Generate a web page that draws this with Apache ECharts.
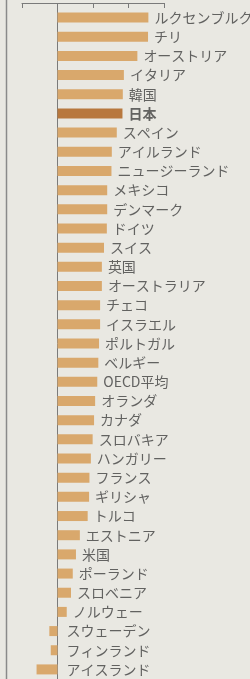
<!DOCTYPE html>
<html><head><meta charset="utf-8">
<script src="https://cdn.jsdelivr.net/npm/echarts@6/dist/echarts.min.js"></script>
<style>html,body{margin:0;padding:0;background:#e9e8e2;}#c{width:250px;height:679px;}</style>
</head><body><div id="c"></div>
<script>
var categories = ['ルクセンブルク','チリ','オーストリア','イタリア','韓国','日本','スペイン','アイルランド','ニュージーランド','メキシコ','デンマーク','ドイツ','スイス','英国','オーストラリア','チェコ','イスラエル','ポルトガル','ベルギー','OECD平均','オランダ','カナダ','スロバキア','ハンガリー','フランス','ギリシャ','トルコ','エストニア','米国','ポーランド','スロベニア','ノルウェー','スウェーデン','フィンランド','アイスランド'];
var values = [2.56,2.55,2.25,1.87,1.84,1.83,1.67,1.53,1.52,1.40,1.40,1.39,1.31,1.25,1.25,1.20,1.20,1.17,1.15,1.12,1.06,1.03,0.99,0.94,0.90,0.89,0.85,0.63,0.52,0.43,0.38,0.26,-0.23,-0.19,-0.59];
var highlight = '日本';
var axisTicks = [-1, 0, 1, 2, 3];

var barColor = '#d9a86c', hiColor = '#b8783e', textColor = '#404040';
var chart = echarts.init(document.getElementById('c'));
chart.setOption({
  backgroundColor: '#e9e8e2',
  animation: false,
  grid: {left: 22, right: 86, top: 8, bottom: 0},
  xAxis: {
    type: 'value', position: 'top', offset: 5,
    min: axisTicks[0], max: axisTicks[axisTicks.length-1], interval: 1,
    axisLine: {show: true, lineStyle: {color: '#7a7a7a', width: 1}},
    axisTick: {show: true, inside: true, length: 5, lineStyle: {color: '#7a7a7a'}},
    axisLabel: {show: false}, splitLine: {show: false}
  },
  yAxis: {
    type: 'category', data: categories, inverse: true,
    axisLine: {show: true, onZero: true, lineStyle: {color: '#7a7a7a', width: 1}},
    axisTick: {show: false}, axisLabel: {show: false}
  },
  series: [{
    type: 'bar', barWidth: 10,
    data: values.map(function(v, i){
      return {value: v, itemStyle: {color: categories[i] === highlight ? hiColor : barColor}};
    })
  }, {
    type: 'scatter', symbolSize: 0, silent: true,
    data: values.map(function(v, i){
      var hi = categories[i] === highlight;
      return {value: [Math.max(v, 0), i], label: {distance: v < 0 ? 9 : 6, fontWeight: hi ? 'bold' : 'normal'}};
    }),
    label: {
      show: true, position: 'right', color: textColor,
      fontFamily: '"Noto Sans CJK JP", sans-serif', fontSize: 14,
      formatter: function(p){ return categories[p.dataIndex]; }
    }
  }],
  graphic: [{type: 'line', shape: {x1: 6.5, y1: 0, x2: 6.5, y2: 679}, style: {stroke: '#8a8a8a', lineWidth: 1.5}}]
});
</script></body></html>
